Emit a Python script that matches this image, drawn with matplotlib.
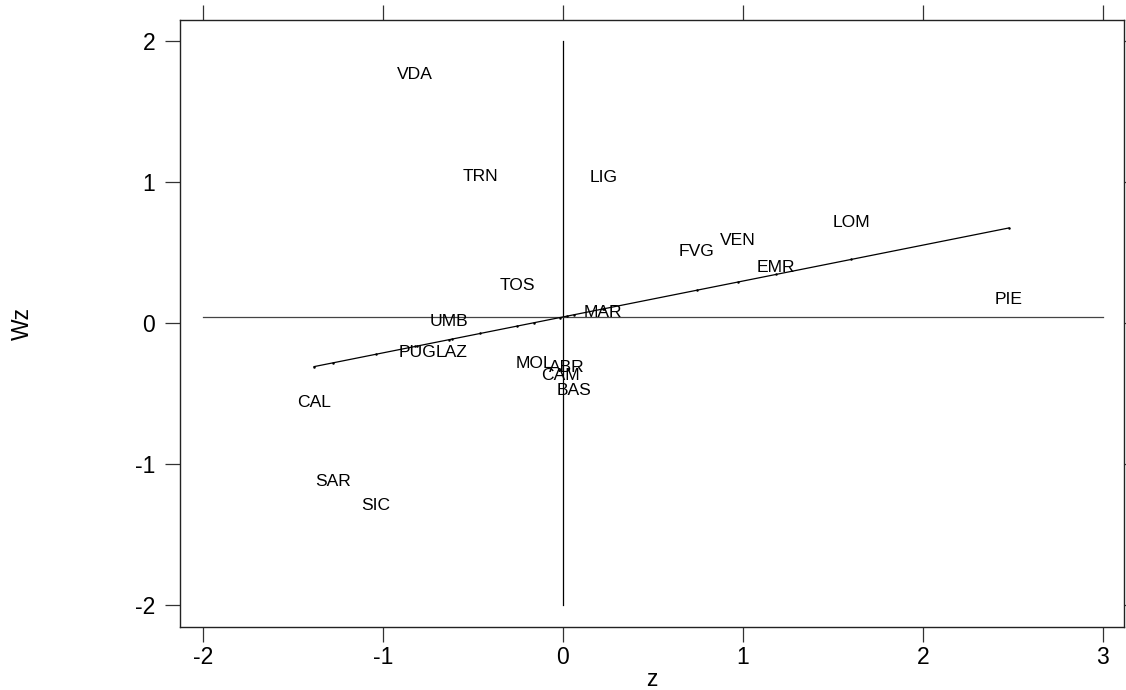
import numpy as np
import matplotlib
matplotlib.use('Agg')
import matplotlib.pyplot as plt

plt.rcParams['font.family'] = ['Liberation Sans', 'DejaVu Sans']
plt.rcParams['axes.unicode_minus'] = False

# standardized variable z and its spatial lag Wz for the Italian regions
regions = ['VDA', 'TRN', 'LIG', 'TOS', 'UMB', 'MAR', 'PUG', 'LAZ', 'MOL', 'ABR',
           'CAM', 'BAS', 'CAL', 'SAR', 'SIC', 'FVG', 'VEN', 'EMR', 'LOM', 'PIE']
z = [-0.822, -0.461, 0.228, -0.256, -0.633, 0.222, -0.811, -0.617, -0.161, 0.022,
     -0.017, 0.061, -1.383, -1.278, -1.039, 0.744, 0.972, 1.183, 1.600, 2.478]
wz = [1.762, 1.040, 1.033, 0.269, 0.014, 0.071, -0.212, -0.212, -0.290, -0.318,
      -0.375, -0.481, -0.566, -1.125, -1.295, 0.510, 0.587, 0.396, 0.715, 0.170]

# Moran slope and the mean of Wz (reference lines)
moran_slope = 0.2546
wz_mean = 0.043

z = np.array(z)
wz = np.array(wz)

fig = plt.figure(figsize=(11.26, 6.9), dpi=100)
ax = fig.add_axes([180 / 1126, 63 / 690, 944 / 1126, 607 / 690])

# cross through the origin
ax.plot([0, 0], [-2, 2], color='black', lw=0.9)
ax.plot([-2, 3], [wz_mean, wz_mean], color='#444444', lw=0.9)

# regression line with fitted points
zs = np.sort(z)
fit = wz_mean + moran_slope * zs
ax.plot(zs, fit, color='black', lw=0.9)
ax.plot(zs, fit, ls='none', marker='.', ms=1.6, color='black')

for name, x, y in zip(regions, z, wz):
    ax.text(x, y, name, ha='center', va='center', fontsize=12.6, color='black')

ax.set_xlim(-2.128, 3.117)
ax.set_ylim(-2.155, 2.148)
ax.set_xticks([-2, -1, 0, 1, 2, 3])
ax.set_yticks([-2, -1, 0, 1, 2])
ax.tick_params(axis='both', direction='out', length=10.8, width=0.9,
               labelsize=16.5, color='#333333', top=True, right=True)
ax.tick_params(axis='x', pad=3)
ax.tick_params(axis='y', pad=7)
for s in ax.spines.values():
    s.set_linewidth(1.0)
    s.set_color('#222222')

ax.set_xlabel('z', fontsize=16.5)
ax.xaxis.set_label_coords(0.5, -0.097)
ax.xaxis.label.set_verticalalignment('baseline')
ax.set_ylabel('Wz', fontsize=16.5)
ax.yaxis.set_label_coords(-0.1674, 0.50)
ax.yaxis.label.set_verticalalignment('center')
ax.yaxis.label.set_horizontalalignment('center')

fig.savefig('out.png', dpi=100)
